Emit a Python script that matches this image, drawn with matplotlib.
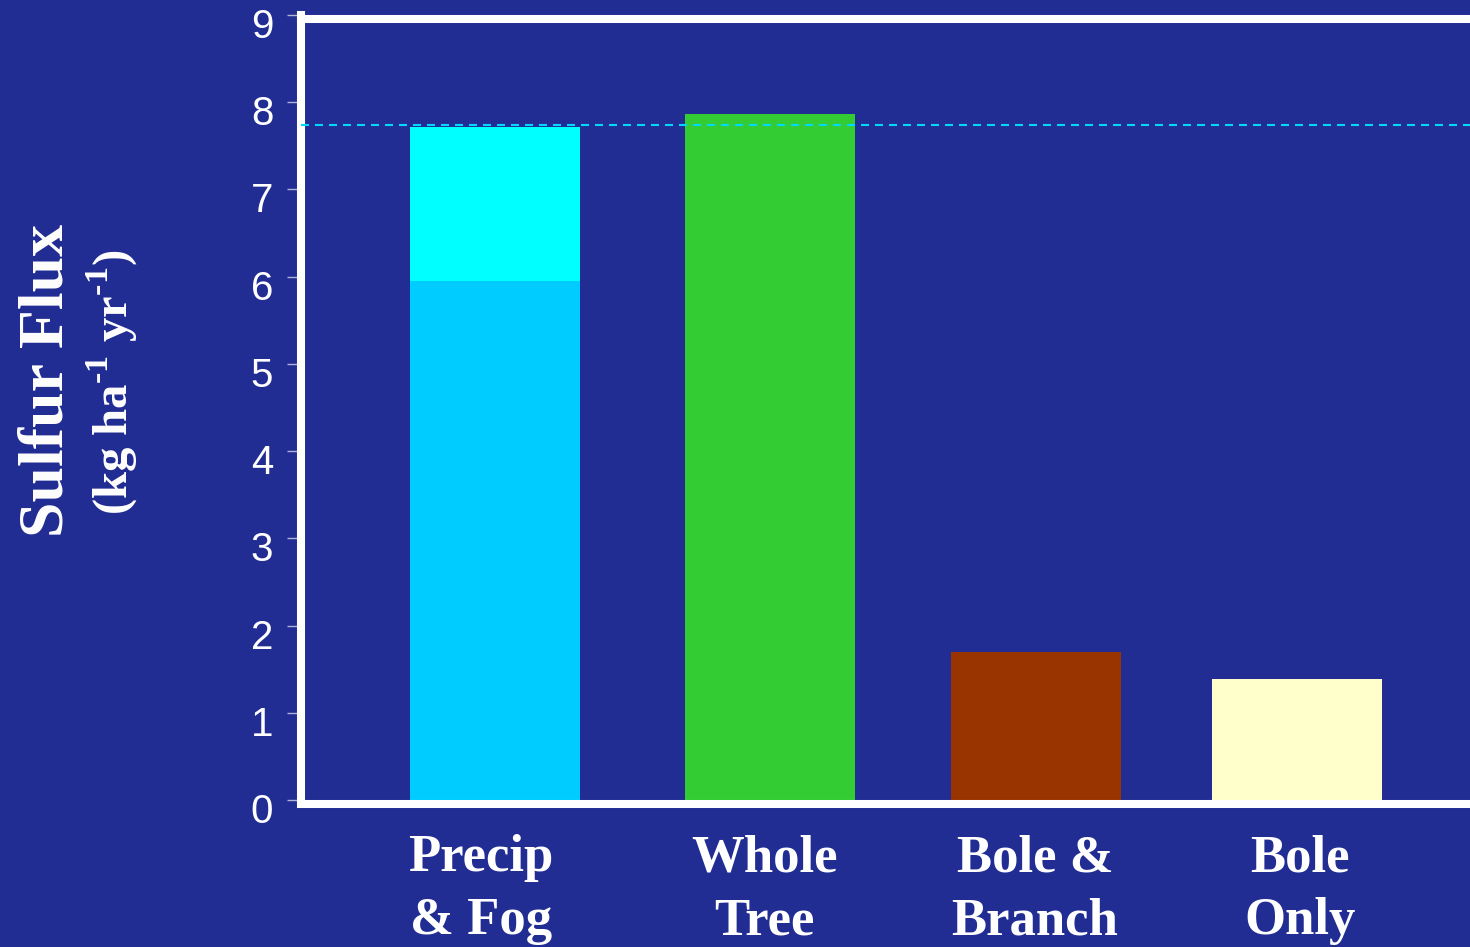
import matplotlib
matplotlib.use('Agg')
from matplotlib import pyplot as plt
from matplotlib.transforms import ScaledTranslation

# data
categories = ['Precip\n& Fog', 'Whole\nTree', 'Bole &\nBranch', 'Bole\nOnly']
base_values = [5.95, 7.87, 1.70, 1.39]
fog_extra = [7.72 - 5.95, 0, 0, 0]
reference_level = 7.74
yticks = [0, 1, 2, 3, 4, 5, 6, 7, 8, 9]

# layout / style
bg = '#222d93'
base_colors = ['#00ccff', '#33cc33', '#993300', '#ffffcc']
bar_pos = [1.94, 4.69, 7.35, 9.96]
label_pos = [1.80, 4.63, 7.34, 9.99]
W, H = 1470, 947

plt.rcParams['mathtext.fontset'] = 'custom'
plt.rcParams['mathtext.rm'] = 'Liberation Serif:bold'
plt.rcParams['mathtext.bf'] = 'Liberation Serif:bold'

fig = plt.figure(figsize=(W / 100, H / 100), dpi=100, facecolor=bg)
ax = fig.add_axes([301 / W, (H - 800) / H, (1480 - 301) / W, (800 - 15) / H])
ax.set_facecolor(bg)

ax.bar(bar_pos, base_values, width=1.7, color=base_colors, zorder=2)
ax.bar(bar_pos[0], fog_extra[0], bottom=base_values[0], width=1.7,
       color='#00ffff', zorder=2)
ax.axhline(reference_level, color='#00d8ff', lw=1.5,
           linestyle=(0, (3.84, 2.88)), zorder=3)

ax.set_xlim(0, 11.79)
ax.set_ylim(0, 9)
ax.set_yticks(yticks)
ax.set_xticks([])

for side in ['left', 'top', 'bottom']:
    ax.spines[side].set_color('white')
    ax.spines[side].set_linewidth(5.8)
ax.spines['right'].set_visible(False)
ax.spines['bottom'].set_position(('outward', 3))
ax.spines['top'].set_position(('outward', -3))

ax.tick_params(axis='y', direction='out', length=10, width=1,
               color='#b0b4d8', pad=10, labelsize=29, labelcolor='white')
shift = ScaledTranslation(0, -8 / 100, fig.dpi_scale_trans)
for lbl in ax.get_yticklabels():
    lbl.set_family('Liberation Sans')
    lbl.set_transform(lbl.get_transform() + shift)

for x, name in zip(label_pos, categories):
    ax.text(x, -134 / 785, name, transform=ax.get_xaxis_transform(),
            ha='center', va='baseline', color='white', fontsize=38,
            fontweight='bold', family='Liberation Serif', linespacing=1.4,
            clip_on=False)

fig.text(63 / W, (H - 380) / H, 'Sulfur Flux', rotation=90,
         rotation_mode='anchor', ha='center', va='baseline',
         color='white', fontsize=46, fontweight='bold',
         family='Liberation Serif')
fig.text(128 / W, (H - 382) / H, r'(kg ha$^{\text{-1}}$ yr$^{\text{-1}}$)',
         rotation=90, rotation_mode='anchor', ha='center', va='baseline',
         color='white', fontsize=35, fontweight='bold',
         family='Liberation Serif')

fig.savefig('out.png', dpi=100, facecolor=bg)
